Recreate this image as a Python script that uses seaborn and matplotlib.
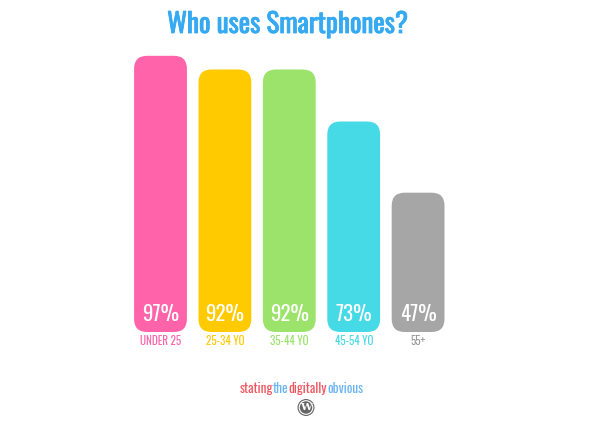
import matplotlib
matplotlib.use("Agg")
import matplotlib.pyplot as plt
import matplotlib.patheffects as pe
import seaborn as sns
from matplotlib.patches import FancyBboxPatch, Circle

# data
age_groups = ["UNDER 25", "25-34 YO", "35-44 YO", "45-54 YO", "55+"]
smartphone_share = [97, 92, 92, 73, 47]
bar_colors = ["#FF63AA", "#FFCA00", "#9BE36A", "#46D9E6", "#A6A6A6"]
label_colors = ["#FF63AA", "#FFCA00", "#9BE36A", "#46D9E6", "#9A9A9A"]
footer_words = ["stating", "the", "digitally", "obvious"]
footer_colors = ["#F2545F", "#6AB4F5", "#F2545F", "#6AB4F5"]

sns.set_theme(style="white")
plt.rcParams["font.family"] = ["Oswald", "DejaVu Sans"]

W, H = 591, 443
fig = plt.figure(figsize=(W / 100, H / 100), dpi=100)
fig.patch.set_facecolor("white")

y_low, y_high = -3.9, 100
ax = fig.add_axes([128.3 / W, (H - 332) / H, 322 / W, 284.4 / H])

sns.barplot(x=age_groups, y=smartphone_share, hue=age_groups, palette=bar_colors,
            saturation=1, legend=False, width=0.82, ax=ax)
ax.set_xlim(-0.5, 4.5)
ax.set_ylim(y_low, y_high)

# swap the plain bars for rounded ones
px_x = (4.5 - -0.5) / 322
px_y = (y_high - y_low) / 284.4
aspect = px_y / px_x
radius = 13 * px_x
for patch in list(ax.patches):
    x, w, h = patch.get_x(), patch.get_width(), patch.get_height()
    color = patch.get_facecolor()
    patch.remove()
    ax.add_patch(FancyBboxPatch((x, y_low), w, h - y_low,
                                boxstyle=f"round,pad=0,rounding_size={radius}",
                                mutation_aspect=aspect, fc=color, ec="none"))

for i, v in enumerate(smartphone_share):
    ax.annotate(f"{v}%", xy=(i, y_low), xytext=(0, 8), textcoords="offset points",
                ha="center", va="baseline", color="white", fontsize=15)

sns.despine(ax=ax, left=True, bottom=True)
ax.set_yticks([])
ax.set_xlabel("")
ax.set_ylabel("")
ax.tick_params(axis="x", length=0, pad=2.5, labelsize=8)
for lbl, c in zip(ax.get_xticklabels(), label_colors):
    lbl.set_color(c)

title_color = "#35AAF2"
fig.text(0.487, 1 - 33 / H, "Who uses Smartphones?", ha="center", va="baseline",
         fontsize=19.5, color=title_color,
         path_effects=[pe.withStroke(linewidth=0.6, foreground=title_color)])

# footer words, placed side by side and centred
parts = [fig.text(0, (H - 393) / H, word, color=c, fontsize=9.5, ha="left", va="baseline")
         for word, c in zip(footer_words, footer_colors)]
fig.canvas.draw()
r = fig.canvas.get_renderer()
widths = [p.get_window_extent(r).width for p in parts]
start = 301.5 - sum(widths) / 2
for p, wd in zip(parts, widths):
    p.set_position((start / W, (H - 393) / H))
    start += wd

# wordpress style badge
cx, cy = 3.06, (H - 407.5) / 100
fig.add_artist(Circle((cx, cy), 0.085, transform=fig.dpi_scale_trans, fc="#666666", ec="none"))
fig.add_artist(Circle((cx, cy), 0.068, transform=fig.dpi_scale_trans, fc="none", ec="white", lw=0.8))
fig.text(cx / (W / 100), cy / (H / 100), "W", ha="center", va="center",
         fontsize=7.5, fontweight="bold", color="white", family="DejaVu Serif")

fig.savefig("out.png", dpi=100, facecolor="white")
